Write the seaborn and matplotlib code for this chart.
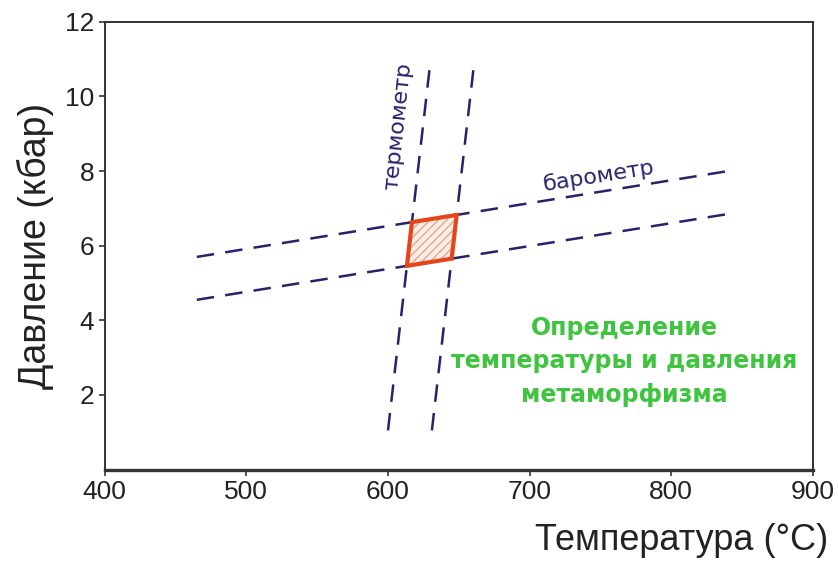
import numpy as np
import pandas as pd
import seaborn as sns
import matplotlib.pyplot as plt
from matplotlib.patches import Polygon

# barometer lines (T in C, P in kbar), end points
baro_upper_T = [465, 840]
baro_upper_P = [5.7, 8.0]
baro_lower_T = [465, 840]
baro_lower_P = [4.55, 6.85]
# thermometer lines
thermo_left_T = [600, 630]
thermo_left_P = [1.05, 10.95]
thermo_right_T = [631, 661]
thermo_right_P = [1.05, 10.95]

x_ticks = [400, 500, 600, 700, 800, 900]
y_ticks = [2, 4, 6, 8, 10, 12]

lines = pd.DataFrame({
    'T': baro_upper_T + baro_lower_T + thermo_left_T + thermo_right_T,
    'P': baro_upper_P + baro_lower_P + thermo_left_P + thermo_right_P,
    'line': ['bu'] * 2 + ['bl'] * 2 + ['tl'] * 2 + ['tr'] * 2,
})

sns.set_style('white')
plt.rcParams['font.family'] = ['Liberation Sans', 'DejaVu Sans']

fig = plt.figure(figsize=(8.38, 5.61), dpi=100)
ax = fig.add_axes([0.125, 0.163, 0.845, 0.798])

navy = '#25236b'
for name, grp in lines.groupby('line'):
    sns.lineplot(data=grp, x='T', y='P', ax=ax, color=navy, sort=False,
                 linewidth=1.8, dashes=False, estimator=None)
for ln in ax.get_lines():
    ln.set_dashes([7, 4.5])


def line_coef(T, P):
    k = (P[1] - P[0]) / (T[1] - T[0])
    return k, P[0] - k * T[0]


def cross(a, b):
    k1, b1 = a
    k2, b2 = b
    t = (b2 - b1) / (k1 - k2)
    return t, k1 * t + b1


bu = line_coef(baro_upper_T, baro_upper_P)
bl = line_coef(baro_lower_T, baro_lower_P)
tl = line_coef(thermo_left_T, thermo_left_P)
tr = line_coef(thermo_right_T, thermo_right_P)
quad = [cross(bu, tl), cross(bu, tr), cross(bl, tr), cross(bl, tl)]

ax.add_patch(Polygon(quad, closed=True, facecolor='#fbeee6', edgecolor='#e8a58a',
                     hatch='////', linewidth=0, zorder=3))
ax.add_patch(Polygon(quad, closed=True, fill=False, edgecolor='#e4461a',
                     linewidth=3, zorder=4))

ax.text(749, 7.88, 'барометр', rotation=9, color=navy, fontsize=16,
        ha='center', va='center', family=['DejaVu Sans'])
ax.text(607, 9.2, 'термометр', rotation=84, color=navy, fontsize=16,
        ha='center', va='center', family=['DejaVu Sans'])
ax.text(767, 2.9, 'Определение\nтемпературы и давления\nметаморфизма',
        color='#3fc43f', fontsize=17, fontweight='bold', ha='center',
        va='center', linespacing=1.5, family=['DejaVu Sans'])

ax.set_xlim(400, 900)
ax.set_ylim(0, 12)
ax.set_xticks(x_ticks)
ax.set_yticks(y_ticks)
ax.tick_params(axis='both', labelsize=19, colors='#333333', length=4,
               width=1.2, direction='out', left=True, bottom=True)
for lab in ax.get_xticklabels() + ax.get_yticklabels():
    lab.set_color('#222222')
ax.set_xlabel('Температура (°C)', fontsize=26, color='#222222')
ax.set_ylabel('Давление (кбар)', fontsize=27, color='#222222', labelpad=8)
ax.xaxis.label.set_ha('right')
ax.xaxis.label.set_va('center')
ax.xaxis.set_label_coords(1.022, -0.158)
for s in ax.spines.values():
    s.set_color('#333333')
    s.set_linewidth(1.4)
ax.spines['bottom'].set_linewidth(2.4)

fig.savefig('out.png', dpi=100)
